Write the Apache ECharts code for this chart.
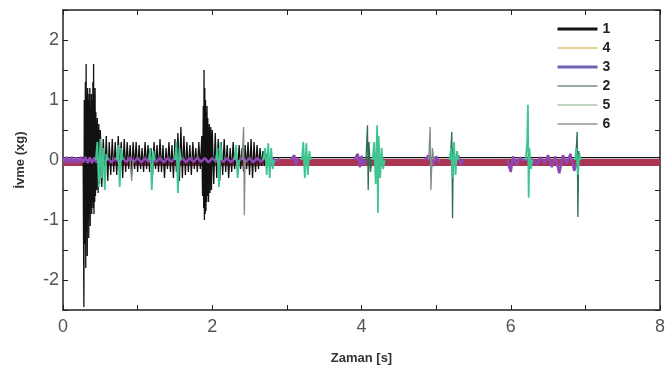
<!DOCTYPE html>
<html><head><meta charset="utf-8">
<script src="https://cdn.jsdelivr.net/npm/echarts@6/dist/echarts.min.js"></script>
<style>html,body{margin:0;padding:0;background:#fff}#c{width:672px;height:372px}</style>
</head><body><div id="c"></div>
<script>
const legendNames = ['1','4','3','2','5','6'];
const xTicks = [0,2,4,6,8];
const yTicks = [-2,-1,0,1,2];

const s1 = [[0,0.04],[0.27,0.04],[0.28,-2.45],[0.285,1.0],[0.29,-1.4],[0.30,1.3],[0.305,-1.8],[0.31,1.6],[0.315,-1.2],[0.32,1.1],[0.325,-1.6],[0.33,1.2],[0.335,-1.0],[0.34,1.0],[0.345,-1.3],[0.35,1.1],[0.355,-0.9],[0.36,1.2],[0.365,-1.1],[0.37,0.9],[0.375,-0.8],[0.38,1.1],[0.385,-0.9],[0.39,1.0],[0.395,-0.7],[0.40,1.3],[0.405,-0.8],[0.41,1.6],[0.415,-0.9],[0.42,1.1],[0.425,-0.7],[0.43,1.2],[0.435,-0.6],[0.44,0.8],[0.45,-0.5],[0.46,0.7],[0.47,-0.55],[0.48,0.6],[0.49,-0.4],[0.50,0.5],[0.52,-0.45],[0.54,0.35],[0.56,-0.3],[0.58,0.4],[0.60,-0.35],[0.62,0.3],[0.64,-0.25],[0.66,0.35],[0.68,-0.2],[0.70,0.3],[0.72,-0.25],[0.74,0.4],[0.76,-0.2],[0.78,0.3],[0.80,-0.3],[0.82,0.35],[0.84,-0.2],[0.86,0.3],[0.88,-0.15],[0.90,0.25],[0.92,-0.25],[0.94,0.3],[0.96,-0.15],[0.98,0.3],[1.00,-0.2],[1.02,0.25],[1.04,-0.15],[1.06,0.2],[1.08,-0.2],[1.10,0.3],[1.12,-0.15],[1.14,0.25],[1.16,-0.2],[1.18,0.2],[1.20,-0.25],[1.22,0.3],[1.24,-0.15],[1.26,0.25],[1.28,-0.2],[1.30,0.35],[1.32,-0.2],[1.34,0.25],[1.36,-0.3],[1.38,0.2],[1.40,-0.15],[1.42,0.3],[1.44,-0.2],[1.46,0.25],[1.48,-0.3],[1.50,0.35],[1.52,-0.2],[1.54,0.45],[1.56,-0.35],[1.58,0.55],[1.60,-0.3],[1.62,0.4],[1.64,-0.25],[1.66,0.3],[1.68,-0.2],[1.70,0.25],[1.72,-0.25],[1.74,0.3],[1.76,-0.15],[1.78,0.2],[1.80,-0.2],[1.82,0.3],[1.84,-0.15],[1.86,0.4],[1.87,-0.6],[1.88,0.9],[1.885,-0.8],[1.89,1.5],[1.895,-1.0],[1.90,1.2],[1.905,-0.9],[1.91,1.0],[1.915,-0.85],[1.92,0.8],[1.925,-0.7],[1.93,0.9],[1.935,-0.6],[1.94,0.7],[1.95,-0.7],[1.96,0.6],[1.97,-0.55],[1.98,0.55],[1.99,-0.5],[2.00,0.5],[2.02,-0.4],[2.04,0.45],[2.06,-0.3],[2.08,0.35],[2.10,-0.35],[2.12,0.3],[2.14,-0.25],[2.16,0.35],[2.18,-0.2],[2.20,0.25],[2.22,-0.3],[2.24,0.2],[2.26,-0.2],[2.28,0.3],[2.30,-0.15],[2.32,0.2],[2.34,-0.2],[2.36,0.25],[2.38,-0.15],[2.40,0.2],[2.42,-0.2],[2.44,0.25],[2.46,-0.15],[2.48,0.3],[2.50,-0.25],[2.52,0.35],[2.54,-0.3],[2.56,0.3],[2.58,-0.2],[2.60,0.25],[2.62,-0.15],[2.64,0.2],[2.66,-0.1],[2.68,0.15],[2.70,-0.1],[2.72,0.1],[2.76,-0.05],[2.80,0.04],[8,0.04]];

const s4 = [[0,-0.04],[8,-0.04]];

const s3 = [[0,0.04],[0.03,-0.05],[0.06,0.05],[0.09,-0.04],[0.12,0.05],[0.15,-0.05],[0.18,0.04],[0.21,-0.05],[0.24,0.05],[0.27,-0.04],[0.3,0.05],[0.33,-0.05],[0.36,0.04],[0.39,-0.05],[0.42,0.04],[0.45,-0.04],[0.5,0.04],[0.55,-0.04],[0.6,0.03],[0.65,-0.04],[0.7,0.03],[0.75,-0.04],[0.8,0.03],[0.85,-0.03],[0.9,0.04],[0.95,-0.03],[1.0,0.03],[1.05,-0.04],[1.1,0.03],[1.15,-0.03],[1.2,0.04],[1.25,-0.03],[1.3,0.03],[1.35,-0.04],[1.4,0.03],[1.45,-0.03],[1.5,0.04],[1.55,-0.03],[1.6,0.03],[1.65,-0.04],[1.7,0.03],[1.75,-0.03],[1.8,0.04],[1.85,-0.03],[1.9,0.03],[1.95,-0.04],[2.0,0.03],[2.05,-0.03],[2.1,0.04],[2.15,-0.03],[2.2,0.03],[2.25,-0.04],[2.3,0.03],[2.35,-0.03],[2.4,0.04],[2.45,-0.03],[2.5,0.03],[2.55,-0.04],[2.6,0.03],[2.65,-0.03],[2.7,0.03],[2.75,-0.04],[2.8,0.03],[2.85,-0.03],[2.9,0.02],[2.95,null],[3.05,0],[3.1,0.08],[3.12,-0.08],[3.15,0.04],[3.2,null],[3.9,0],[3.95,0.1],[3.98,-0.12],[4.0,0.07],[4.03,-0.08],[4.06,0],[4.1,null],[4.85,0],[4.9,0.08],[4.95,-0.1],[5.0,0.06],[5.05,-0.04],[5.1,null],[5.25,0],[5.3,0.07],[5.33,-0.08],[5.36,0],[5.4,null],[5.95,0],[6.0,-0.2],[6.03,0.06],[6.08,-0.08],[6.12,0.04],[6.16,0],[6.3,0],[6.35,-0.08],[6.4,0.05],[6.45,-0.06],[6.5,0.08],[6.55,-0.12],[6.6,0.06],[6.65,-0.22],[6.7,0.08],[6.75,-0.06],[6.8,0.1],[6.85,-0.18],[6.9,0],[6.95,null]];

const s2 = [[4.06,0],[4.08,0.58],[4.09,-0.5],[4.1,0.3],[4.12,-0.2],[4.14,0],[4.16,null],[5.19,0],[5.21,0.47],[5.22,-0.97],[5.23,0.2],[5.25,0],[5.27,null],[6.87,0],[6.89,0.47],[6.9,-0.95],[6.91,0.15],[6.93,0]];

const s5 = [[0.44,0],[0.46,0.3],[0.48,-0.45],[0.50,0.35],[0.52,-0.3],[0.54,0.2],[0.56,-0.5],[0.58,0.1],[0.60,0],[0.62,null],[0.72,0],[0.74,0.25],[0.76,-0.45],[0.78,0.2],[0.80,0],[0.82,null],[1.15,0],[1.17,0.2],[1.19,-0.5],[1.21,0.15],[1.23,0],[1.25,null],[1.5,0],[1.52,0.3],[1.54,-0.55],[1.56,0.2],[1.58,0],[1.6,null],[2.05,0],[2.07,0.2],[2.09,-0.45],[2.11,0.3],[2.13,0],[2.15,null],[2.3,0],[2.32,0.25],[2.34,-0.3],[2.36,0],[2.38,null],[2.68,0],[2.71,0.2],[2.73,-0.25],[2.75,0.28],[2.77,-0.3],[2.79,0.2],[2.81,-0.15],[2.83,0],[2.85,null],[3.20,0],[3.22,0.3],[3.24,-0.3],[3.26,0.28],[3.28,-0.25],[3.30,0.15],[3.32,0],[3.34,null],[4.15,0],[4.17,0.3],[4.19,-0.4],[4.21,0.58],[4.22,-0.88],[4.23,0.4],[4.25,-0.3],[4.27,0.2],[4.29,-0.15],[4.31,0],[4.33,null],[5.18,0],[5.2,0.2],[5.22,-0.3],[5.24,0.3],[5.26,-0.25],[5.28,0.15],[5.3,0],[5.32,null],[6.2,0],[6.22,0.3],[6.23,0.92],[6.24,-0.63],[6.25,0.2],[6.27,-0.15],[6.29,0],[6.31,null],[6.86,0],[6.88,0.2],[6.9,-0.25],[6.92,0.1],[6.94,0]];

const s6 = [[0.9,0],[0.92,-0.35],[0.94,0],[0.96,null],[2.4,0],[2.42,0.55],[2.43,-0.92],[2.44,0],[2.46,null],[4.9,0],[4.92,0.55],[4.93,-0.5],[4.95,0.2],[4.97,0]];

const chart = echarts.init(document.getElementById('c'), null, {renderer:'canvas'});
const axisLineStyle = {color:'#222', width:1.5};
const FF = 'Liberation Sans, Arial, sans-serif';
const labelStyle = {color:'#555', fontSize:18, fontFamily:FF};
function mk(name, data, color, width, z, extra){
  return Object.assign({name, type:'line', data, symbol:'none', showSymbol:false, connectNulls:false,
    lineStyle:{color, width}, itemStyle:{color}, z, animation:false}, extra||{});
}
const hid = {opacity:0};
chart.setOption({
  animation:false,
  grid:{left:63, right:12, top:10, bottom:62},
  legend:{
    orient:'vertical', left:551, top:17, itemWidth:40, itemHeight:14, itemGap:5,
    itemStyle:hid,
    textStyle:{color:'#222', fontSize:14, fontWeight:'bold', fontFamily:FF},
    data:[
      {name:'1', itemStyle:hid, lineStyle:{color:'#111', width:3}},
      {name:'4', itemStyle:hid, lineStyle:{color:'#d8c27a', width:1.3}},
      {name:'3', itemStyle:hid, lineStyle:{color:'#6f63b5', width:3}},
      {name:'2', itemStyle:hid, lineStyle:{color:'#7a8f86', width:1.3}},
      {name:'5', itemStyle:hid, lineStyle:{color:'#a8c4ae', width:1.3}},
      {name:'6', itemStyle:hid, lineStyle:{color:'#8d9893', width:1.3}}
    ]
  },
  xAxis:[{
    type:'value', min:0, max:8, interval:1, position:'bottom',
    name:'Zaman [s]', nameLocation:'middle', nameGap:42,
    nameTextStyle:{color:'#333', fontSize:13, fontWeight:'bold', fontFamily:FF},
    axisLine:{onZero:false, lineStyle:axisLineStyle}, axisTick:{inside:true, length:5, lineStyle:{color:'#222'}},
    axisLabel:{...labelStyle, margin:8, formatter:v=>xTicks.includes(v)?String(v):''},
    splitLine:{show:false}
  },{
    type:'value', min:0, max:8, interval:1, position:'top',
    axisLine:{onZero:false, lineStyle:axisLineStyle}, axisTick:{inside:true, length:5, lineStyle:{color:'#222'}},
    axisLabel:{show:false}, splitLine:{show:false}
  }],
  yAxis:[{
    type:'value', min:-2.5, max:2.5, interval:0.5, position:'left',
    name:'İvme (xg)', nameLocation:'middle', nameGap:36, nameRotate:90,
    nameTextStyle:{color:'#333', fontSize:13, fontWeight:'bold', fontFamily:FF},
    axisLine:{show:true, onZero:false, lineStyle:axisLineStyle}, axisTick:{show:true, inside:true, length:5, lineStyle:{color:'#222'}},
    axisLabel:{...labelStyle, margin:4, formatter:v=>yTicks.includes(v)?String(v):''},
    splitLine:{show:false}
  },{
    type:'value', min:-2.5, max:2.5, interval:0.5, position:'right',
    axisLine:{show:true, onZero:false, lineStyle:axisLineStyle}, axisTick:{show:true, inside:true, length:5, lineStyle:{color:'#222'}},
    axisLabel:{show:false}, splitLine:{show:false}
  }],
  series:[
    mk('4', s4, '#aa3452', 7, 1, {xAxisIndex:1, yAxisIndex:1}),
    mk('1', s1, '#111111', 1.3, 2),
    mk('3', s3, '#9048b8', 2.5, 3),
    mk('2', s2, '#2e6e52', 1.3, 4),
    mk('5', s5, '#3fc590', 1.8, 5),
    mk('6', s6, '#7f8f88', 1.3, 6)
  ]
});
</script></body></html>
